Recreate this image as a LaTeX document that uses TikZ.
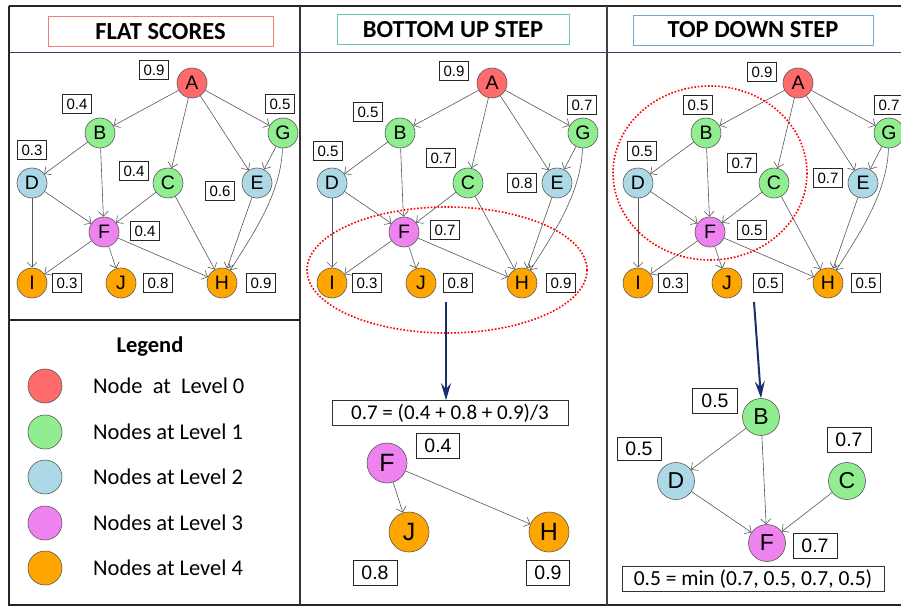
\documentclass[tikz,border=0pt]{standalone}
\usepackage{fontspec}
\setmainfont{Liberation Sans}
\newfontfamily\calfont{Carlito}
\usetikzlibrary{arrows.meta}
\definecolor{lv0}{HTML}{FF6A6A}
\definecolor{lv1}{HTML}{90EE90}
\definecolor{lv2}{HTML}{ADD8E6}
\definecolor{lv3}{HTML}{EE82EE}
\definecolor{lv4}{HTML}{FFA500}
\definecolor{navyc}{HTML}{1A2F6E}
\definecolor{sepblue}{HTML}{2F3F7F}
\definecolor{tred}{HTML}{F08080}
\definecolor{tgreen}{HTML}{66CC99}
\definecolor{tblue}{HTML}{6FA8DC}
\newcommand{\hgraph}[2]{%
\begin{scope}[xshift=#2]
  \node[nd,fill=lv0] (#1A) at (192,83) {A};
  \node[nd,fill=lv1] (#1B) at (100,133) {B};
  \node[nd,fill=lv1] (#1G) at (283,133) {G};
  \node[nd,fill=lv2] (#1D) at (32,183) {D};
  \node[nd,fill=lv1] (#1C) at (168,183) {C};
  \node[nd,fill=lv2] (#1E) at (257,183) {E};
  \node[nd,fill=lv3] (#1F) at (104,232) {F};
  \node[nd,fill=lv4] (#1I) at (32,283) {I};
  \node[nd,fill=lv4] (#1J) at (121,283) {J};
  \node[nd,fill=lv4] (#1H) at (222,283) {H};
  \draw[edge] (#1A) -- (#1B);
  \draw[edge] (#1A) -- (#1C);
  \draw[edge] (#1A) -- (#1E);
  \draw[edge] (#1A) -- (#1G);
  \draw[edge] (#1B) -- (#1D);
  \draw[edge] (#1B) -- (#1F);
  \draw[edge] (#1G) -- (#1E);
  \draw[edge] (#1G) .. controls +(-2,60) and +(32,-50) .. (#1H);
  \draw[edge] (#1D) -- (#1F);
  \draw[edge] (#1D) -- (#1I);
  \draw[edge] (#1C) -- (#1F);
  \draw[edge] (#1C) -- (#1H);
  \draw[edge] (#1E) -- (#1H);
  \draw[edge] (#1F) -- (#1I);
  \draw[edge] (#1F) -- (#1J);
  \draw[edge] (#1F) -- (#1H);
\end{scope}}
\begin{document}
\begin{tikzpicture}[x=1pt,y=-1pt,
  nd/.style={circle,draw=black!65,line width=0.6pt,minimum size=30pt,inner sep=0pt,font=\fontsize{19.5}{19.5}\selectfont},
  bnd/.style={nd,minimum size=40pt,font=\fontsize{25}{25}\selectfont},
  rnd/.style={nd,minimum size=37pt,font=\fontsize{23}{23}\selectfont},
  edge/.style={draw=black!65,line width=0.6pt,-{Straight Barb[length=5pt,width=10pt]}},
  lab/.style={draw=black!85,fill=white,line width=0.6pt,minimum width=29pt,minimum height=19pt,inner sep=0pt,font=\fontsize{15}{15}\selectfont},
  blab/.style={lab,minimum width=44pt,minimum height=25pt,font=\fontsize{19.5}{19.5}\selectfont},
  ttl/.style={draw,line width=0.8pt,fill=white,minimum height=30pt,inner sep=0pt,font=\calfont\bfseries\fontsize{24.5}{24.5}\selectfont},
  leg/.style={circle,draw=black!65,line width=0.6pt,minimum size=34pt,inner sep=0pt},
  legtxt/.style={anchor=west,inner sep=0pt,font=\calfont\fontsize{22.5}{22.5}\selectfont},
  bigarrow/.style={draw=navyc,line width=2pt,-{Stealth[length=17pt,width=10pt,inset=6pt]}},
  hilite/.style={draw=red,line width=1.6pt,dash pattern=on 1.6pt off 1.8pt},
  fbox/.style={draw=black!80,fill=white,line width=0.6pt,minimum height=25pt,inner sep=0pt}]
\useasboundingbox (0,0) rectangle (901,607);
\fill[white] (0,0) rectangle (901,607);
% frame and dividers
\draw[black!85,line width=1.6pt] (9,6) -- (905,6);
\draw[black!85,line width=1.6pt] (9,6) -- (9,605) -- (905,605);
\draw[black!80,line width=1.2pt] (300,6) -- (300,605);
\draw[black!75,line width=1.2pt] (607,6) -- (607,605);
\draw[sepblue,line width=0.9pt] (9,52) -- (905,52);
\draw[black!85,line width=1.2pt] (9,320) -- (300,320);
% titles
\node[ttl,draw=tred,minimum width=225pt] (t1) at (160.5,31.5) {FLAT SCORES};
\node[ttl,draw=tgreen,minimum width=232pt] (t2) at (453,29.5) {BOTTOM UP STEP};
\node[ttl,draw=tblue,minimum width=240pt] (t3) at (753,30) {TOP DOWN STEP};
% graphs
\hgraph{f}{0pt}
\hgraph{m}{300pt}
\hgraph{t}{606pt}
% flat labels
\node[lab] (fla) at (154,70) {0.9};
\node[lab] (flb) at (77,104) {0.4};
\node[lab] (flg) at (280,104) {0.5};
\node[lab] (fld) at (32,150) {0.3};
\node[lab] (flc) at (134,171) {0.4};
\node[lab] (fle) at (220,191) {0.6};
\node[lab] (flf) at (145,231) {0.4};
\node[lab] (fli) at (67,283) {0.3};
\node[lab] (flj) at (158,283) {0.8};
\node[lab] (flh) at (261,283) {0.9};
% bottom-up labels
\node[lab] (mla) at (454,71) {0.9};
\node[lab] (mlb) at (368,112) {0.5};
\node[lab] (mlg) at (582,105) {0.7};
\node[lab] (mld) at (328,151) {0.5};
\node[lab] (mlc) at (441,158) {0.7};
\node[lab] (mle) at (522,183) {0.8};
\node[lab] (mlf) at (445,230) {0.7};
\node[lab] (mli) at (367,283) {0.3};
\node[lab] (mlj) at (458,283) {0.8};
\node[lab] (mlh) at (561,283) {0.9};
% top-down labels
\node[lab] (tla) at (762,72) {0.9};
\node[lab] (tlb) at (698,105) {0.5};
\node[lab] (tlg) at (889,105) {0.7};
\node[lab] (tld) at (642,151) {0.5};
\node[lab] (tlc) at (742,163) {0.7};
\node[lab] (tle) at (828,178) {0.7};
\node[lab] (tlf) at (752,230) {0.5};
\node[lab] (tli) at (673,283) {0.3};
\node[lab] (tlj) at (768,283) {0.5};
\node[lab] (tlh) at (866,283) {0.5};
% highlights
\draw[hilite] (447,270) ellipse [x radius=140, y radius=63];
\draw[hilite] (710,173) ellipse [x radius=97, y radius=87];
% big arrows
\coordinate (ma0) at (446,302);
\coordinate (ta0) at (754,302);
\node[fbox,minimum width=236pt,font=\calfont\fontsize{21}{21}\selectfont] (mform) at (450,413) {0.7 = (0.4 + 0.8 + 0.9)/3};
\draw[bigarrow] (ma0) -- (mform.north -| ma0);
% bottom-up detail
\node[bnd,fill=lv3] (mF2) at (387,463) {F};
\node[bnd,fill=lv4] (mJ2) at (409,532) {J};
\node[bnd,fill=lv4] (mH2) at (549,532) {H};
\draw[edge] (mF2) -- (mJ2);
\draw[edge] (mF2) -- (mH2);
\node[blab,minimum width=43pt] (mlf2) at (438,446) {0.4};
\node[blab] (mlj2) at (375,573) {0.8};
\node[blab,minimum width=43pt] (mlh2) at (548,573) {0.9};
% top-down detail
\node[rnd,fill=lv1] (tB2) at (761,417) {B};
\node[rnd,fill=lv2] (tD2) at (676,481) {D};
\node[rnd,fill=lv1] (tC2) at (847,481) {C};
\node[rnd,fill=lv3] (tF2) at (767,543) {F};
\draw[bigarrow] (ta0) -- (tB2.north);
\draw[edge] (tB2) -- (tD2);
\draw[edge] (tB2) -- (tF2);
\draw[edge] (tD2) -- (tF2);
\draw[edge] (tC2) -- (tF2);
\node[blab,minimum width=45pt] (tlb2) at (715,401) {0.5};
\node[blab,minimum width=44pt,minimum height=23pt] (tld2) at (639,449) {0.5};
\node[blab] (tlc2) at (849,440) {0.7};
\node[blab] (tlf2) at (815,546) {0.7};
\node[fbox,minimum width=262pt,font=\calfont\fontsize{21.5}{21.5}\selectfont] (tform) at (753,579) {0.5 = min (0.7, 0.5, 0.7, 0.5)};
% legend
\node[font=\calfont\bfseries\fontsize{22.5}{22.5}\selectfont] (legt) at (150,347) {Legend};
\node[leg,fill=lv0] (lg0) at (45,386) {};
\node[leg,fill=lv1] (lg1) at (45,432) {};
\node[leg,fill=lv2] (lg2) at (45,477) {};
\node[leg,fill=lv3] (lg3) at (45,523) {};
\node[leg,fill=lv4] (lg4) at (45,568) {};
\node[legtxt] (lt0) at (93,386) {Node\ \ at\ \ Level 0};
\node[legtxt] (lt1) at (93,432) {Nodes at Level 1};
\node[legtxt] (lt2) at (93,477) {Nodes at Level 2};
\node[legtxt] (lt3) at (93,523) {Nodes at Level 3};
\node[legtxt] (lt4) at (93,568) {Nodes at Level 4};
\end{tikzpicture}
\end{document}
